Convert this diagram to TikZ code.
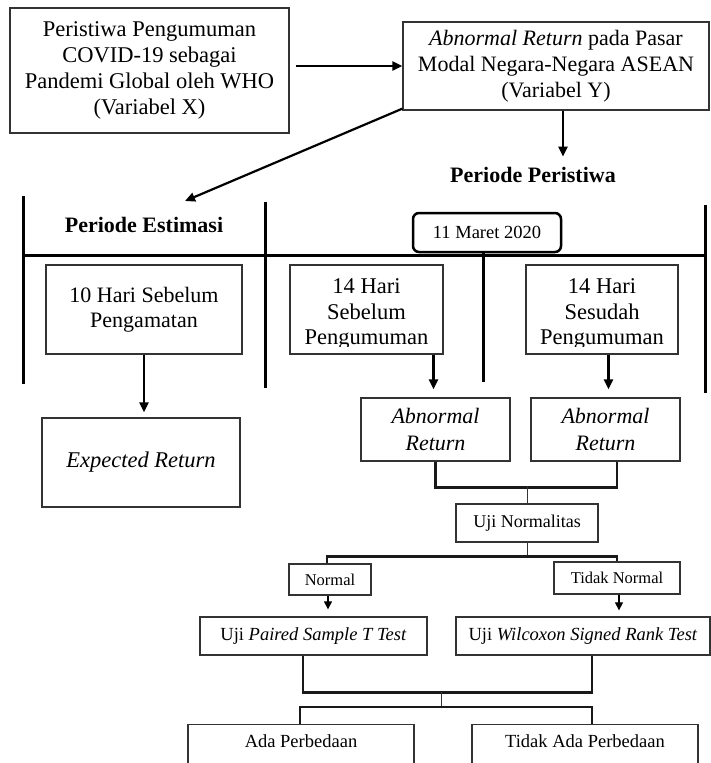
\documentclass[tikz,border=0pt]{standalone}
\usepackage{fontspec}
\setmainfont{Liberation Serif}
\usetikzlibrary{arrows.meta,calc}
\begin{document}
\begin{tikzpicture}[x=1pt,y=-1pt,
  box/.style={draw=black!80, line width=1.3pt, inner sep=0pt, align=center},
  txt/.style={inner sep=0pt, align=center},
  heavy/.style={line width=3pt, black},
  brk/.style={line width=2.4pt, black!90},
  thinln/.style={line width=1pt, black!80},
  arr/.style={line width=2.2pt, -{Triangle[length=10pt,width=9pt]}},
  sarr/.style={line width=1.2pt, -{Triangle[length=8pt,width=8pt]}},
  big/.style={font=\fontsize{22}{26}\selectfont},
]
\useasboundingbox (0,0) rectangle (711,763);

% top boxes
\node[box, minimum width=279, minimum height=125, font=\fontsize{22.5}{26}\selectfont] (X) at (149.5,70.5)
  {Peristiwa Pengumuman\\COVID-19 sebagai\\Pandemi Global oleh WHO\\(Variabel X)};
\node[box, minimum width=306, minimum height=88, big] (Y) at (556,66)
  {\textit{Abnormal Return} pada Pasar\\Modal Negara-Negara ASEAN\\(Variabel Y)};
\draw[arr, shorten <=6pt] (X.east |- Y.west) -- (Y.west);

\node[txt, font=\bfseries\fontsize{22}{26}\selectfont] (PP) at (533,175) {Periode Peristiwa};
\node[txt, font=\bfseries\fontsize{22}{26}\selectfont] (PE) at (144,225) {Periode Estimasi};
\coordinate (peTip) at (185,201);
\draw[arr] ([yshift=2]Y.south west) -- (peTip);
\draw[arr] ([xshift=7]Y.south) -- ++(0,46);

% timeline frame
\draw[heavy] (23,196) -- (23,384);
\draw[heavy] (265,202) -- (265,388);
\draw[heavy] (705,205) -- (705,393);
\draw[heavy] (23,255) -- (705,255);

\node[draw, line width=2.5pt, rounded corners=6pt, fill=white, inner sep=0pt,
  minimum width=148, minimum height=39, font=\fontsize{18.5}{22}\selectfont] (D) at (487,232.5) {11 Maret 2020};
\draw[heavy] ([xshift=-4]D.south) -- ++(0,129);

% period boxes
\node[box, minimum width=196, minimum height=89, font=\fontsize{22}{25}\selectfont] (H10) at (144,309.5)
  {10 Hari Sebelum\\Pengamatan};
\node[box, minimum width=153, minimum height=89] (H14a) at (366.5,309.5) {};
\node[box, minimum width=152, minimum height=89] (H14b) at (602,309.5) {};
\begin{scope}
  \clip (290,265) rectangle (443,346);
  \node[txt, font=\fontsize{22.5}{25.5}\selectfont] (T14a) at (366.5,314) {14 Hari\\Sebelum\\Pengumuman};
\end{scope}
\begin{scope}
  \clip (526,265) rectangle (678,346);
  \node[txt, font=\fontsize{22.5}{25.5}\selectfont] (T14b) at (602,314) {14 Hari\\Sesudah\\Pengumuman};
\end{scope}

\node[box, minimum width=198, minimum height=89, font=\itshape\fontsize{22.5}{26}\selectfont] (E) at (141,462.5)
  {Expected Return};
\draw[arr, shorten >=5pt] (H10.south) -- (H10.south |- E.north);

\node[box, minimum width=149, minimum height=63, font=\itshape\fontsize{22}{27}\selectfont] (AR1) at (435.5,429.5)
  {Abnormal\\Return};
\node[box, minimum width=149, minimum height=63, font=\itshape\fontsize{22}{27}\selectfont] (AR2) at (605.5,429.5)
  {Abnormal\\Return};
\draw[arr, shorten >=8pt] ([xshift=-2]AR1.north |- H14a.south) -- ([xshift=-2]AR1.north);
\draw[arr, shorten >=8pt] ([xshift=3]AR2.north |- H14b.south) -- ([xshift=3]AR2.north);

\draw[brk] (AR1.south) -- ++(0,26) -| ([xshift=11.5]AR2.south);

\node[box, minimum width=142, minimum height=38, font=\fontsize{18}{22}\selectfont] (UN) at (527,523) {Uji Normalitas};
\draw[thinln] (UN.north) -- ++(0,-17);

\node[box, minimum width=82, minimum height=31, font=\fontsize{16.5}{20}\selectfont] (N) at (330,579.5) {Normal};
\node[box, minimum width=126, minimum height=32, font=\fontsize{16.5}{20}\selectfont] (TN) at (617,578) {Tidak Normal};
\draw[thinln] (UN.south) -- ++(0,15);
\draw[brk] ([xshift=-3]N.north) -- ++(0,-7) -| (TN.north);

\node[box, minimum width=227, minimum height=38, font=\fontsize{18.5}{22}\selectfont] (P) at (313.5,636)
  {Uji \textit{Paired Sample T Test}};
\node[box, minimum width=254, minimum height=38, font=\fontsize{18.5}{22}\selectfont] (W) at (583,636)
  {Uji \textit{Wilcoxon Signed Rank Test}};
\draw[sarr, shorten >=7pt] ([xshift=-2]N.south) -- ([xshift=-2]N.south |- P.north);
\draw[sarr, shorten >=6pt] ([xshift=2]TN.south) -- ([xshift=2]TN.south |- W.north);

\draw[brk] ([xshift=-10.5]P.south) -- ++(0,37) -| ([xshift=9]W.south);
\coordinate (j2) at (441,692);
\coordinate (j3) at (441,707);
\draw[thinln] (j2) -- (j3);

\node[box, minimum width=226, text height=23pt, text depth=30pt, font=\fontsize{18.5}{22}\selectfont] (A) at (301,751)
  {Ada Perbedaan};
\node[box, minimum width=226, text height=23pt, text depth=30pt, font=\fontsize{18.5}{22}\selectfont] (TA) at (585,751)
  {Tidak Ada Perbedaan};
\draw[brk] ([xshift=-1]A.north) |- (j3) -| ([xshift=7]TA.north);
\end{tikzpicture}
\end{document}
